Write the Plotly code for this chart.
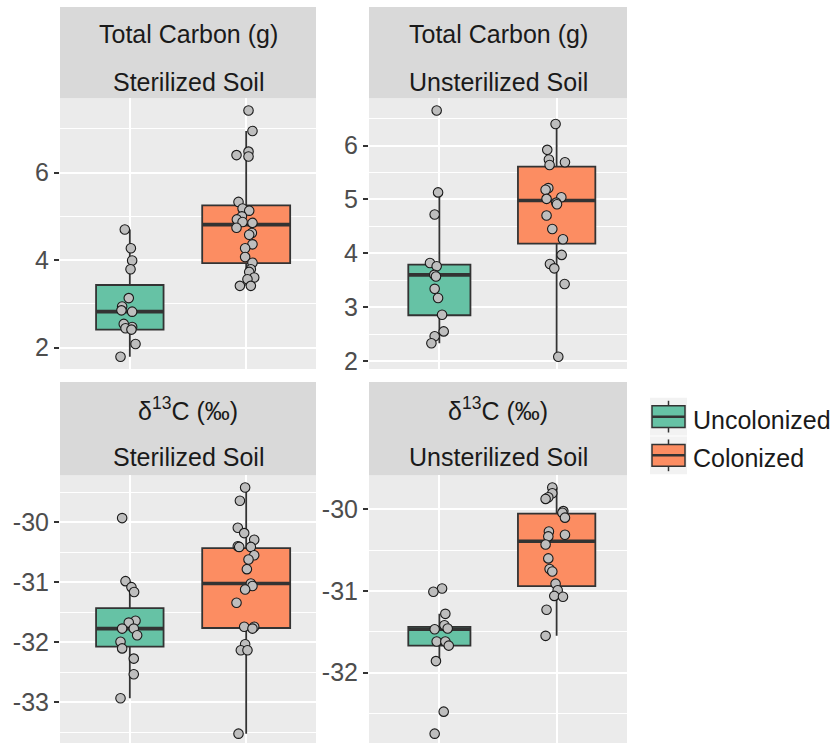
import plotly.graph_objects as go

W, H = 833, 749
GREEN = "#66C2A5"
ORANGE = "#FC8D62"
EDGE = "#333333"
FONT = "Liberation Sans, Arial, sans-serif"

groups = ["Uncolonized", "Colonized"]

# ---- Total carbon (g), sterilized soil ----
tc_ster_uncol = [4.70, 4.27, 3.99, 3.79, 3.13, 2.94, 2.85, 2.82, 2.54, 2.47, 2.44, 2.41, 2.08, 1.79]
tc_ster_uncol_jit = [-0.043, 0.009, 0.020, 0.006, -0.009, -0.066, -0.072, 0.020, -0.052, 0.020, -0.037, 0.014, 0.049, -0.080]
tc_ster_col = [7.42, 6.95, 6.48, 6.40, 6.37, 5.33, 5.18, 5.13, 5.00, 4.93, 4.87, 4.85, 4.74, 4.62, 4.58,
               4.36, 4.27, 4.07, 3.94, 3.79, 3.73, 3.60, 3.56, 3.41, 3.41]
tc_ster_col_jit = [0.020, 0.054, 0.020, -0.083, 0.020, -0.066, -0.031, 0.026, -0.037, -0.080, -0.031, 0.054,
                   -0.083, 0.049, 0.026, 0.054, -0.009, -0.009, 0.054, 0.040, 0.026, 0.069, 0.011, -0.054, 0.040]
tc_ster_box = {"q1": [2.41, 3.93], "median": [2.82, 4.81], "q3": [3.43, 5.25],
               "lo": [1.79, 3.41], "hi": [4.70, 6.95], "width": [0.58, 0.756]}
tc_ster_ticks = [2, 4, 6]

# ---- Total carbon (g), unsterilized soil ----
tc_unst_uncol = [6.65, 5.13, 4.72, 3.82, 3.76, 3.60, 3.57, 3.34, 3.17, 2.86, 2.55, 2.46, 2.33]
tc_unst_uncol_jit = [-0.023, -0.011, -0.040, -0.080, -0.023, -0.043, -0.029, -0.040, -0.011, 0.023, 0.037, -0.040, -0.068]
tc_unst_col = [6.40, 5.92, 5.74, 5.69, 5.64, 5.21, 5.18, 5.04, 5.01, 4.94, 4.91, 4.70, 4.45, 4.26, 3.97,
               3.80, 3.72, 3.43, 2.08]
tc_unst_col_jit = [-0.009, -0.080, -0.066, 0.071, -0.060, -0.071, -0.094, 0.040, -0.086, -0.003, 0.003, -0.086,
                   -0.037, 0.054, 0.043, -0.057, -0.020, 0.068, 0.014]
tc_unst_box = {"q1": [2.85, 4.18], "median": [3.60, 4.98], "q3": [3.79, 5.61],
               "lo": [2.33, 2.08], "hi": [5.13, 6.40], "width": [0.53, 0.66]}
tc_unst_ticks = [2, 3, 4, 5, 6]

# ---- delta 13C (permil), sterilized soil ----
d13_ster_uncol = [-29.93, -30.98, -31.08, -31.16, -31.64, -31.67, -31.77, -31.77, -31.88, -31.99, -32.10,
                  -32.27, -32.53, -32.93]
d13_ster_uncol_jit = [-0.066, -0.037, 0.014, 0.037, 0.049, -0.009, -0.066, 0.034, 0.063, -0.080, -0.066, 0.034, 0.034, -0.080]
d13_ster_col = [-29.42, -29.64, -30.09, -30.18, -30.29, -30.40, -30.41, -30.41, -30.55, -30.62, -30.78,
                -31.02, -31.06, -31.12, -31.34, -31.74, -31.74, -31.77, -32.03, -32.13, -32.13, -33.52]
d13_ster_col_jit = [-0.009, -0.054, -0.072, -0.017, 0.069, -0.072, -0.060, 0.040, 0.069, 0.020, 0.006, 0.040,
                    0.054, -0.009, -0.083, -0.017, 0.069, 0.054, -0.009, -0.046, 0.011, -0.066]
d13_ster_box = {"q1": [-32.07, -31.76], "median": [-31.77, -31.02], "q3": [-31.43, -30.43],
                "lo": [-32.93, -33.52], "hi": [-30.98, -29.42], "width": [0.58, 0.756]}
d13_ster_ticks = [-33, -32, -31, -30]

# ---- delta 13C (permil), unsterilized soil ----
d13_unst_uncol = [-30.97, -31.01, -31.28, -31.42, -31.46, -31.47, -31.62, -31.62, -31.67, -31.86, -32.48, -32.75]
d13_unst_uncol_jit = [0.023, -0.051, 0.051, 0.043, 0.071, -0.040, -0.023, 0.051, 0.080, -0.029, 0.037, -0.040]
d13_unst_col = [-29.73, -29.80, -29.85, -29.87, -30.02, -30.04, -30.10, -30.27, -30.31, -30.33, -30.43,
                -30.60, -30.73, -30.76, -30.91, -30.99, -31.06, -31.07, -31.23, -31.55]
d13_unst_col_jit = [-0.037, -0.037, -0.071, -0.094, 0.057, 0.049, 0.071, -0.066, 0.071, -0.071, -0.094, -0.071,
                    -0.060, -0.037, -0.009, 0.009, -0.020, 0.054, -0.086, -0.094]
d13_unst_box = {"q1": [-31.67, -30.94], "median": [-31.47, -30.39], "q3": [-31.44, -30.05],
                "lo": [-31.86, -31.55], "hi": [-31.28, -29.73], "width": [0.53, 0.66]}
d13_unst_ticks = [-32, -31, -30]

strip_top = ["Total Carbon (g)", "Total Carbon (g)", "δ<sup>13</sup>C (‰)", "δ<sup>13</sup>C (‰)"]
strip_bottom = ["Sterilized Soil", "Unsterilized Soil", "Sterilized Soil", "Unsterilized Soil"]

panels = [
    (tc_ster_uncol, tc_ster_uncol_jit, tc_ster_col, tc_ster_col_jit, tc_ster_box, tc_ster_ticks),
    (tc_unst_uncol, tc_unst_uncol_jit, tc_unst_col, tc_unst_col_jit, tc_unst_box, tc_unst_ticks),
    (d13_ster_uncol, d13_ster_uncol_jit, d13_ster_col, d13_ster_col_jit, d13_ster_box, d13_ster_ticks),
    (d13_unst_uncol, d13_unst_uncol_jit, d13_unst_col, d13_unst_col_jit, d13_unst_box, d13_unst_ticks),
]

# pixel geometry of each panel: (left, right, top, full bottom) — the lower row runs past the page edge
panel_px = [(60, 316, 99, 372), (369, 627, 99, 372), (60, 316, 479, 752), (369, 627, 479, 752)]
strip_px = [(7, 99), (7, 99), (385, 479), (385, 479)]


def fx(px):
    return px / W


def fy(py):
    return 1 - py / H


fig = go.Figure()
layout = dict(
    width=W, height=H,
    margin=dict(l=0, r=0, t=0, b=0),
    paper_bgcolor="white",
    plot_bgcolor="#EBEBEB",
    showlegend=False,
    font=dict(family=FONT),
)
shapes = []
annotations = []
TXT = 25

for i, (uncol, uncol_jit, col, col_jit, box, ticks) in enumerate(panels):
    n = i + 1
    xa = "x" if n == 1 else f"x{n}"
    ya = "y" if n == 1 else f"y{n}"
    left, right, top, bottom = panel_px[i]

    # boxes from precomputed statistics
    for g, fill in enumerate([GREEN, ORANGE]):
        fig.add_trace(go.Box(
            x=[g + 1], q1=[box["q1"][g]], median=[box["median"][g]], q3=[box["q3"][g]],
            lowerfence=[box["lo"][g]], upperfence=[box["hi"][g]],
            width=box["width"][g], fillcolor=fill,
            line=dict(color=EDGE, width=1.8), whiskerwidth=0,
            boxpoints=False, name=groups[g], xaxis=xa, yaxis=ya, hoverinfo="skip",
        ))
        hw = box["width"][g] / 2
        fig.add_trace(go.Scatter(
            x=[g + 1 - hw, g + 1 + hw], y=[box["median"][g]] * 2, mode="lines",
            line=dict(color=EDGE, width=3.6), xaxis=xa, yaxis=ya, hoverinfo="skip",
        ))

    # jittered observations
    for g, (vals, jit) in enumerate([(uncol, uncol_jit), (col, col_jit)]):
        fig.add_trace(go.Scatter(
            x=[g + 1 + d for d in jit], y=vals, mode="markers",
            marker=dict(symbol="circle", size=9.5, color="#BEBEBE",
                        line=dict(color="#1A1A1A", width=1.1)),
            xaxis=xa, yaxis=ya, hoverinfo="skip",
        ))

    # 5% expansion of the data range, clipped where the panel leaves the page
    allv = uncol + col
    lo, hi = min(allv), max(allv)
    pad = 0.05 * (hi - lo)
    y_top, y_bot = hi + pad, lo - pad
    vis_bottom = min(bottom, H)
    y_vis_bot = y_top - (vis_bottom - top) / (bottom - top) * (y_top - y_bot)

    step = ticks[1] - ticks[0]
    minor_vals = [t - step / 2 for t in ticks] + [ticks[-1] + step / 2]

    layout["xaxis" if n == 1 else f"xaxis{n}"] = dict(
        domain=[fx(left), fx(right)], anchor=ya, range=[0.4, 2.6],
        tickvals=[1, 2], showticklabels=False, ticks="",
        showgrid=True, gridcolor="white", gridwidth=2,
        zeroline=False, showline=False, fixedrange=True,
    )
    layout["yaxis" if n == 1 else f"yaxis{n}"] = dict(
        domain=[fy(vis_bottom), fy(top)], anchor=xa, range=[y_vis_bot, y_top],
        tickvals=ticks, ticktext=[str(t) for t in ticks],
        ticks="outside", ticklen=5, tickwidth=1.5, tickcolor=EDGE,
        tickfont=dict(family=FONT, size=TXT, color="#4D4D4D"),
        showgrid=True, gridcolor="white", gridwidth=2,
        minor=dict(tickvals=minor_vals, showgrid=True, gridcolor="white", gridwidth=1, ticks=""),
        zeroline=False, showline=False, fixedrange=True,
    )

    # facet strip
    s_top, s_bot = strip_px[i]
    shapes.append(dict(type="rect", xref="paper", yref="paper",
                       x0=fx(left), x1=fx(right), y0=fy(s_bot), y1=fy(s_top),
                       fillcolor="#D9D9D9", line=dict(width=0), layer="below"))
    cx = fx((left + right) / 2)
    annotations.append(dict(text=strip_top[i], x=cx, y=fy(s_top + 27), xref="paper", yref="paper",
                            showarrow=False, xanchor="center", yanchor="middle",
                            font=dict(family=FONT, size=TXT, color="#1A1A1A")))
    annotations.append(dict(text=strip_bottom[i], x=cx, y=fy(s_top + 76), xref="paper", yref="paper",
                            showarrow=False, xanchor="center", yanchor="middle",
                            font=dict(family=FONT, size=TXT, color="#1A1A1A")))

# legend keys drawn in ggplot style
key_left, key_right = 650, 687
for k, (label, fill) in enumerate(zip(groups, [GREEN, ORANGE])):
    kt = 401 + k * 39
    kb = kt + 38
    kc = (key_left + key_right) / 2
    shapes.append(dict(type="rect", xref="paper", yref="paper",
                       x0=fx(key_left), x1=fx(key_right), y0=fy(kb), y1=fy(kt),
                       fillcolor="#F2F2F2", line=dict(width=0)))
    shapes.append(dict(type="line", xref="paper", yref="paper",
                       x0=fx(kc), x1=fx(kc), y0=fy(kb - 3), y1=fy(kt + 3),
                       line=dict(color=EDGE, width=1.5)))
    shapes.append(dict(type="rect", xref="paper", yref="paper",
                       x0=fx(key_left + 2), x1=fx(key_right - 2), y0=fy(kb - 8), y1=fy(kt + 8),
                       fillcolor=fill, line=dict(color=EDGE, width=1.5)))
    shapes.append(dict(type="line", xref="paper", yref="paper",
                       x0=fx(key_left + 2), x1=fx(key_right - 2), y0=fy((kt + kb) / 2), y1=fy((kt + kb) / 2),
                       line=dict(color=EDGE, width=2.5)))
    annotations.append(dict(text=label, x=fx(691), y=fy((kt + kb) / 2 + 3), xref="paper", yref="paper",
                            showarrow=False, xanchor="left", yanchor="middle",
                            font=dict(family=FONT, size=TXT, color="#1A1A1A")))

layout["shapes"] = shapes
layout["annotations"] = annotations
fig.update_layout(**layout)
fig.write_html("out.html")
